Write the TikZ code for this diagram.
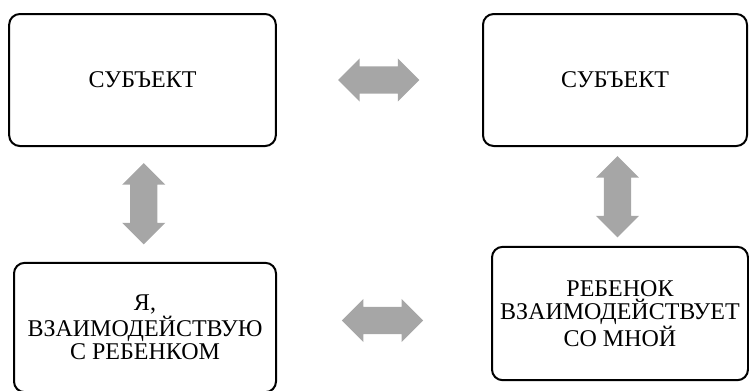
\documentclass[tikz,border=0pt]{standalone}
\usepackage{fontspec}
\setmainfont{Liberation Serif}
\usetikzlibrary{shapes.arrows,calc}

\definecolor{arrowgray}{HTML}{A6A6A6}

\begin{document}
\begin{tikzpicture}[x=0.75pt,y=-0.75pt]
\tikzset{
  block/.style={draw=black, line width=1.5pt, rounded corners=8pt, align=center,
    font=\fontsize{18}{17.5}\selectfont, inner sep=0pt},
  twoway/.style={double arrow, fill=arrowgray, draw=none, inner sep=10pt,
    minimum height=61pt, minimum width=32pt, double arrow head extend=6pt}
}
\useasboundingbox (0,0) rectangle (749,390);
% the four boxes
\node[block, minimum width=200pt, minimum height=99pt] (subjL) at (142.5,80) {СУБЪЕКТ};
\node[block, minimum width=198pt, minimum height=99pt] (subjR) at (615,80) {СУБЪЕКТ};
\node[block, minimum width=196.5pt, minimum height=97pt] (me) at (145,327.5) {Я,\\ВЗАИМОДЕЙСТВУЮ\\С РЕБЕНКОМ};
\node[block, minimum width=192pt, minimum height=100pt] (child) at (620,313.5) {РЕБЕНОК\\ВЗАИМОДЕЙСТВУЕТ\\СО МНОЙ};
% the gray arrows
\node[twoway] (topArr) at ($(subjL)!0.5!(subjR)$) {};
\node[twoway, shape border rotate=90] (leftArr) at ($(subjL)!0.5!(me)$) {};
\node[twoway, shape border rotate=90] (rightArr) at ($(subjR)!0.5!(child)$) {};
\node[twoway] (botArr) at ($(me)!0.5!(child)$) {};
\end{tikzpicture}
\end{document}
